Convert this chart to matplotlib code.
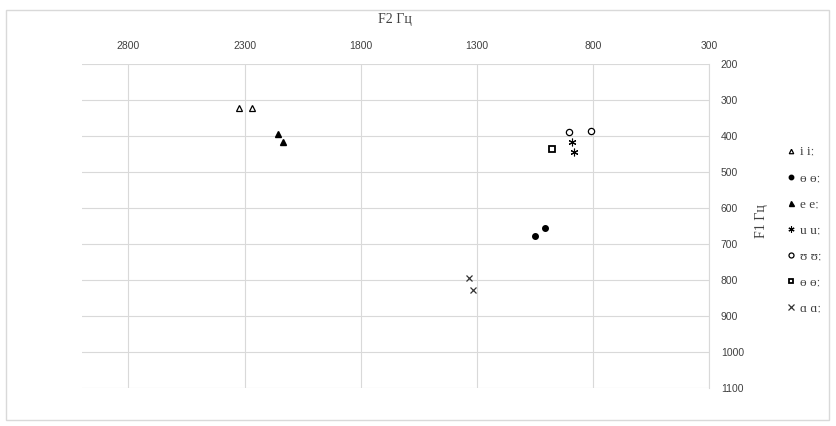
import matplotlib
matplotlib.use("Agg")
import matplotlib.pyplot as plt
from matplotlib.patches import Rectangle

# Data (F2, F1 in Hz)
labels = ["i iː", "ɵ ɵː", "e eː", "u uː", "ʊ ʊː", "ɵ ɵː", "ɑ ɑː"]
f2_i = [2322, 2266]
f1_i = [322, 323]
f2_oe = [1050, 1005]
f1_oe = [678, 656]
f2_e = [2158, 2136]
f1_e = [395, 417]
f2_u = [890, 881]
f1_u = [417, 444]
f2_ups = [903, 809]
f1_ups = [389, 386]
f2_o = [977]
f1_o = [436]
f2_a = [1334, 1317]
f1_a = [795, 828]

x_ticks = [2800, 2300, 1800, 1300, 800, 300]
y_ticks = [200, 300, 400, 500, 600, 700, 800, 900, 1000, 1100]

W, H = 836, 426
fig = plt.figure(figsize=(W / 100, H / 100), dpi=100)
fig.patches.append(Rectangle((6 / W, 1 - 420 / H), (829 - 6) / W, (420 - 10) / H,
                             transform=fig.transFigure, fill=False,
                             edgecolor="#d9d9d9", linewidth=1.0))

ax = fig.add_axes([82 / W, 1 - 388 / H, (709 - 82) / W, (388 - 64) / H])
ax.set_xlim(3000, 300)
ax.set_ylim(1100, 200)

ms = 4.0
series = [
    (f2_i, f1_i, dict(marker="^", mfc="white", mec="black", mew=0.9, ms=ms)),
    (f2_oe, f1_oe, dict(marker="o", mfc="black", mec="black", ms=ms)),
    (f2_e, f1_e, dict(marker="^", mfc="black", mec="black", ms=ms + 0.5)),
    (f2_u, f1_u, dict(marker=(6, 2, 0), mfc="black", mec="black", mew=0.8, ms=ms + 1.5)),
    (f2_ups, f1_ups, dict(marker="o", mfc="white", mec="black", mew=0.9, ms=ms + 0.5)),
    (f2_o, f1_o, dict(marker="s", mfc="white", mec="black", mew=1.3, ms=ms)),
    (f2_a, f1_a, dict(marker="x", mfc="black", mec="#333333", mew=0.9, ms=ms + 1)),
]
handles = []
for (xs, ys, st), lab in zip(series, labels):
    h, = ax.plot(xs, ys, linestyle="none", label=lab, zorder=3, **st)
    handles.append(h)

ax.set_xticks(x_ticks)
ax.set_yticks(y_ticks)
ax.xaxis.tick_top()
ax.yaxis.tick_right()
ax.tick_params(axis="both", length=0, labelsize=7.5, colors="#404040",
               labelfontfamily="Liberation Sans")
ax.tick_params(axis="x", pad=9.5)
ax.tick_params(axis="y", pad=8.5)
for lab in ax.get_yticklabels():
    lab.set_horizontalalignment("left")
ax.grid(True, color="#d9d9d9", linewidth=0.8, zorder=0)
for s in ["left", "top", "bottom"]:
    ax.spines[s].set_visible(False)
ax.spines["right"].set_color("#d9d9d9")
ax.spines["right"].set_linewidth(0.8)

fig.text(395 / W, 1 - 20 / H, "F2 Гц", ha="center", va="center",
         fontsize=10, family="Liberation Serif", color="#404040")
fig.text(762 / W, 1 - 221 / H, "F1 Гц", ha="center", va="center",
         rotation=90, fontsize=10, family="Liberation Serif", color="#404040")

leg = fig.legend(handles=handles, labels=labels, loc="upper left",
                 bbox_to_anchor=(787 / W, 1 - 146 / H), frameon=False,
                 prop={"family": ["Liberation Serif", "DejaVu Serif"], "size": 9.5},
                 handlelength=0.6, handletextpad=0.35, labelspacing=1.05,
                 borderpad=0, borderaxespad=0, markerscale=0.8)
for t in leg.get_texts():
    t.set_color("#404040")

fig.savefig("out.png", dpi=100)
